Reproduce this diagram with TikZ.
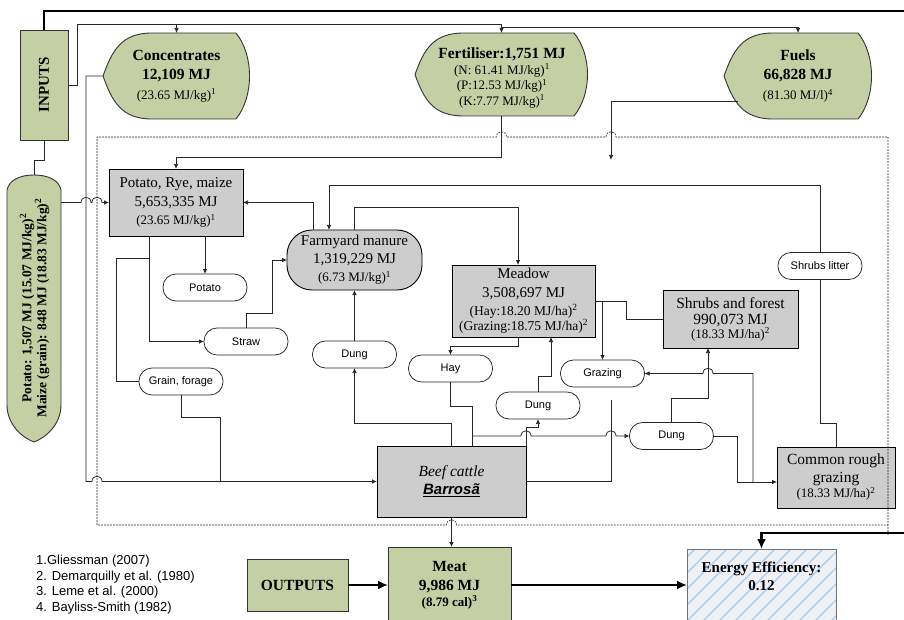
\documentclass[tikz,border=0pt]{standalone}
\usepackage{fontspec}
\setmainfont{Liberation Serif}
\newfontfamily\arialf{Liberation Sans}
\usetikzlibrary{calc,arrows.meta,backgrounds}
\definecolor{gfill}{RGB}{196,207,164}
\definecolor{bfill}{RGB}{205,205,205}
\definecolor{effill}{RGB}{238,242,247}
\definecolor{hatchc}{RGB}{170,202,232}
\newcommand\humpR[2]{-- ({#1-5},#2) .. controls ({#1-5},{#2-7}) and ({#1+5},{#2-7}) .. ({#1+5},#2)}
\newcommand\humpL[2]{-- ({#1+5},#2) .. controls ({#1+5},{#2-7}) and ({#1-5},{#2-7}) .. ({#1-5},#2)}
\newcommand\dispshape[1]{%
\begin{pgfonlayer}{background}
\draw[gshape] (#1.west) .. controls ($(#1.west)+(9,-25)$) and ($(#1.north west)+(18,0)$) .. ($(#1.north west)+(49,0)$) -- ($(#1.north east)+(-14,0)$) .. controls ($(#1.north east)+(4,22)$) and ($(#1.south east)+(4,-22)$) .. ($(#1.south east)+(-14,0)$) -- ($(#1.south west)+(49,0)$) .. controls ($(#1.south west)+(18,0)$) and ($(#1.west)+(9,25)$) .. (#1.west) -- cycle;
\end{pgfonlayer}}
\begin{document}
\begin{tikzpicture}[x=1pt,y=-1pt,
  ln/.style={draw=black!85,line width=0.75pt},
  arr/.style={ln,-{Latex[length=5pt,width=4.5pt]}},
  bigline/.style={draw=black,line width=2.6pt},
  bigarr/.style={bigline,-{Latex[length=10pt,width=9pt]}},
  dashline/.style={draw=black!85,line width=0.65pt,dash pattern=on 1.8pt off 1.2pt},
  gshape/.style={draw=black!80,line width=0.9pt,fill=gfill},
  greenbox/.style={gshape,align=center,inner sep=0pt,outer sep=0pt},
  greybox/.style={draw=black,line width=0.9pt,fill=bfill,align=center,inner sep=0pt,outer sep=0pt},
  dnode/.style={inner sep=0pt,outer sep=0pt,align=center},
  pill/.style={draw=black!85,line width=0.75pt,fill=white,rounded corners=13pt,minimum width=84pt,minimum height=27pt,inner sep=0pt,outer sep=0pt,font=\arialf\fontsize{11}{13}\selectfont}]
\useasboundingbox (0,0) rectangle (904,620);

% ---------- INPUTS ----------
\node[greenbox,minimum width=48pt,minimum height=110pt] (inputs) at (44,85) {};
\node[rotate=90,font=\bfseries\fontsize{15}{18}\selectfont] (inputstxt) at (inputs.center) {INPUTS};

% ---------- display shapes ----------
\node[dnode,minimum width=147pt,minimum height=86pt,font=\fontsize{13}{19.5}\selectfont] (conc) at (176.5,76)
 {{\bfseries\fontsize{15.5}{19.5}\selectfont Concentrates}\\{\bfseries\fontsize{15.5}{19.5}\selectfont 12,109 MJ}\\(23.65 MJ/kg)\textsuperscript{1}};
\node[dnode,minimum width=173pt,minimum height=83pt] (fert) at (501.5,74.5) {};
\node[dnode,font=\fontsize{13}{15.5}\selectfont] (ferttxt) at (502,78)
 {{\bfseries\fontsize{15.5}{16}\selectfont Fertiliser:1,751 MJ}\\(N: 61.41 MJ/kg)\textsuperscript{1}\\(P:12.53 MJ/kg)\textsuperscript{1}\\(K:7.77 MJ/kg)\textsuperscript{1}};
\node[dnode,minimum width=148pt,minimum height=86pt,font=\fontsize{13}{19.5}\selectfont] (fuel) at (798,76)
 {{\bfseries\fontsize{15.5}{19.5}\selectfont Fuels}\\{\bfseries\fontsize{15.5}{19.5}\selectfont 66,828 MJ}\\(81.30 MJ/l)\textsuperscript{4}};
\dispshape{conc}
\dispshape{fert}
\dispshape{fuel}

% ---------- potato / maize input ----------
\draw[gshape] (7,190) .. controls (9,180) and (20,175) .. (34,175) .. controls (48,175) and (59,180) .. (61,190) -- (61,405) .. controls (61,425) and (45,438) .. (34,442) .. controls (23,438) and (7,425) .. (7,405) -- cycle;
\node[dnode,minimum width=54pt,minimum height=267pt] (pm) at (34,308.5) {};
\node[rotate=90,align=center,font=\bfseries\fontsize{13.5}{15}\selectfont] (pmtxt) at (34.5,308)
 {Potato: 1,507 MJ (15.07 MJ/kg)\textsuperscript{2}\\Maize (grain): 848 MJ (18.83 MJ/kg)\textsuperscript{2}};

% ---------- grey boxes ----------
\node[greybox,minimum width=134pt,minimum height=67pt,font=\fontsize{13}{18.5}\selectfont] (prm) at (176,202.5)
 {{\fontsize{15}{18}\selectfont Potato, Rye, maize}\\{\fontsize{15}{18}\selectfont 5,653,335 MJ}\\(23.65 MJ/kg)\textsuperscript{1}};
\node[greybox,rounded corners=25pt,minimum width=135pt,minimum height=60pt,font=\fontsize{13}{18}\selectfont] (fym) at (354.5,260)
 {{\fontsize{15}{18}\selectfont Farmyard manure}\\{\fontsize{15}{18}\selectfont 1,319,229 MJ}\\(6.73 MJ/kg)\textsuperscript{1}};
\node[greybox,minimum width=143pt,minimum height=72pt,font=\fontsize{13.5}{19}\selectfont] (meadow) at (523.5,301)
 {{\fontsize{15}{18}\selectfont Meadow}\\[-0.5pt]{\fontsize{15}{18}\selectfont 3,508,697 MJ}\\[-1pt](Hay:18.20 MJ/ha)\textsuperscript{2}\\[-4pt](Grazing:18.75 MJ/ha)\textsuperscript{2}};
\node[greybox,minimum width=135pt,minimum height=58pt,font=\fontsize{13}{16}\selectfont] (shrubs) at (730.5,319)
 {{\fontsize{15.5}{18}\selectfont Shrubs and forest}\\{\fontsize{15.5}{18}\selectfont 990,073 MJ}\\[-2pt](18.33 MJ/ha)\textsuperscript{2}};
\node[greybox,minimum width=118pt,minimum height=61pt,font=\fontsize{13}{18}\selectfont] (crg) at (836,477.5)
 {{\fontsize{15.5}{18}\selectfont Common rough}\\{\fontsize{15.5}{18}\selectfont grazing}\\[-3pt](18.33 MJ/ha)\textsuperscript{2}};
\node[greybox,minimum width=149pt,minimum height=71pt,font=\fontsize{15.5}{18}\selectfont] (beef) at (451.5,481.5)
 {{\itshape Beef cattle}\\{\arialf\bfseries\itshape\fontsize{15}{18}\selectfont\underline{Barrosã}}};

% ---------- pills ----------
\node[pill] (potato) at (205,287.5) {Potato};
\node[pill] (straw) at (246,341.5) {Straw};
\node[pill] (grain) at (181,381.5) {Grain, forage};
\node[pill] (dung1) at (354.5,354.5) {Dung};
\node[pill] (hay) at (450.5,368.5) {Hay};
\node[pill] (dung2) at (538,405.5) {Dung};
\node[pill] (grazing) at (602.5,373.5) {Grazing};
\node[pill] (dung3) at (671.5,436) {Dung};
\node[pill] (litter) at (820,266) {Shrubs litter};

% ---------- outputs ----------
\node[greenbox,minimum width=101pt,minimum height=52pt,font=\bfseries\fontsize{15.5}{18}\selectfont] (outputs) at (297.5,585) {OUTPUTS};
\node[greenbox,minimum width=123pt,minimum height=76pt,font=\bfseries\fontsize{13}{19}\selectfont] (meat) at (449.5,585)
 {{\fontsize{15.5}{19}\selectfont Meat}\\{\fontsize{15.5}{19}\selectfont 9,986 MJ}\\[-3pt](8.79 cal)\textsuperscript{3}};
\node[draw=black!55,line width=0.8pt,fill=effill,minimum width=149pt,minimum height=72pt,inner sep=0pt,outer sep=0pt,
  path picture={\foreach \k in {0,...,15}{\draw[hatchc,line width=1.1pt] ($(path picture bounding box.south west)+({\k*16-80},0)$) -- ++(100,-100);}}] (eff) at (761.5,585) {};
\node[font=\bfseries\fontsize{15}{18}\selectfont,align=center] (efftxt) at (761.5,576) {Energy Efficiency:\\0.12};

\node[anchor=west,align=left,inner sep=0pt,font=\arialf\fontsize{13}{15.7}\selectfont] (refs) at (36,584.5)
 {1.Gliessman (2007)\\2. Demarquilly et al. (1980)\\3. Leme et al. (2000)\\4. Bayliss-Smith (1982)};

% ---------- helper coordinates ----------
\coordinate (topR) at (910,11);
\coordinate (botR) at (910,533);
\coordinate (t24) at (77,24);
\coordinate (t27) at (0,27);
\coordinate (c185) at (0,185);
\coordinate (c207) at (0,207);
\coordinate (c6a) at (86,481.5);
\coordinate (c7a) at (220,481.5);
\coordinate (fuelout) at ($(fuel.south west)+(14,-18)$);
\coordinate (fuelend) at (611,160);
\coordinate (c14a) at ($(prm.south west)+(40,0)$);
\coordinate (c15a) at (116,258);
\coordinate (c16a) at (272,260);
\coordinate (c20a) at (472,436);
\coordinate (c24a) at (626,301);
\coordinate (c27a) at (737,482);
\coordinate (crgin) at ($(crg.west)+(0,4.5)$);
\coordinate (c28a) at (753,482);
\coordinate (c30a) at (611,400);

% ---------- thick connectors ----------
\draw[bigline] (inputs.north) |- (topR);
\draw[bigarr] (botR) -| (eff.north);
\draw[bigarr] (outputs.east) -- (meat.west);
\draw[bigarr] (meat.east) -- (eff.west);

% ---------- thin connectors ----------
\draw[ln] (inputs.east) -| (t24) -- (fert.north |- t24);
\draw[arr] (conc.north |- t24) -- (conc.north);
\draw[arr] (fert.north |- t24) -- (fert.north);
\draw[arr] (fert.north |- t27) -| (fuel.north);
\draw[ln] (inputs.south) -- ++(0,20) -| (pm.north);
\draw[arr] (pm.east |- prm.west) \humpR{86}{202.5} \humpR{97}{202.5} -- (prm.west);
\draw[arr] (conc.west) -| (c6a) \humpR{97}{481.5} -- (beef.west);
\draw[ln] (grain.south) -- ++(0,22) -| (c7a);
\draw[arr] (fert.south) -- ++(0,41) -| (prm.north);
\draw[arr] (fuelout) -| (fuelend);
\draw[arr] ($(fym.north west)+(26,0)$) |- (prm.east);
\draw[arr] (litter.north) -- (litter.north |- c185) -| ($(fym.north west)+(42,0)$);
\draw[arr] (fym.north) -- (fym.north |- c207) -| ($(meadow.north west)+(66,0)$);
\draw[arr] (potato.north |- prm.south) -- (potato.north);
\draw[arr] (c14a) |- (straw.west);
\draw[ln] ($(c14a)+(0,22)$) -- (c15a) |- (grain.west);
\draw[arr] (straw.north) -- ++(0,-15) -| (c16a) -- (fym.west);
\draw[arr] (beef.north) -- ++(0,-23) -| (dung1.south);
\draw[arr] (dung1.north) -- (fym.south);
\draw[ln] (hay.south) -- ++(0,24) -| ($(beef.north west)+(95,0)$);
\draw[arr] (c20a) \humpR{526}{436} \humpR{611}{436} -- (dung3.west);
\draw[arr] (beef.north east) -- ++(0,-19) -| (dung2.south);
\draw[arr] (dung2.north) -- ++(0,-16) -| ($(meadow.south west)+(99,0)$);
\draw[arr] ($(meadow.south west)+(66,0)$) -- ++(0,9) -| (hay.north);
\draw[ln] (meadow.east) -- (c24a) |- (shrubs.west);
\draw[arr] (grazing.north |- meadow.east) -- (grazing.north);
\draw[arr] (dung3.north) -- ++(0,-24) -| ($(shrubs.south west)+(45,0)$);
\draw[arr] (dung3.east) -| (c27a) -- (crgin);
\draw[arr] (c28a) -- (753,373.5) \humpL{708}{373.5} -- (grazing.east);
\draw[ln] (crg.north) -- ++(0,-24) -| (litter.south);
\draw[ln] (beef.east) -| (c30a);
\draw[arr] (beef.south) -- (beef.south |- meat.north);

% ---------- dashed system border ----------
\draw[dashline] (888,535) -- (888,137) -- (616,137) .. controls (616,130) and (606,130) .. (606,137) -- (506.5,137) .. controls (506.5,130) and (496.5,130) .. (496.5,137) -- (97,137) -- (97,525) -- (446.5,525) .. controls (446.5,518) and (456.5,518) .. (456.5,525) -- (888,525);
\end{tikzpicture}
\end{document}
